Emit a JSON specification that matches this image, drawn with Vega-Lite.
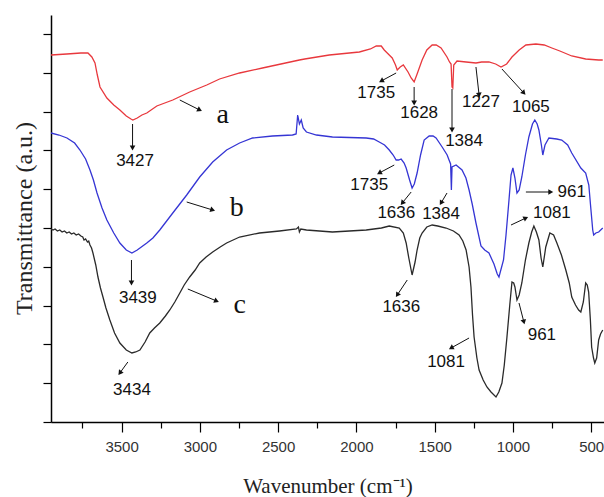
{
  "$schema": "https://vega.github.io/schema/vega-lite/v6.json",
  "width": 553,
  "height": 407,
  "autosize": {"type": "none"},
  "padding": {"left": 51, "top": 15, "right": 0, "bottom": 75},
  "background": "white",
  "config": {
    "view": {"stroke": null},
    "axis": {"grid": false, "domainColor": "#000", "domainWidth": 1.5, "tickColor": "#000", "tickWidth": 1.2}
  },
  "datasets": {
    "spectra": [
      {"wn":3951,"t":375,"s":"a"},{"wn":3850,"t":376,"s":"a"},{"wn":3760,"t":377,"s":"a"},{"wn":3715,"t":377,"s":"a"},{"wn":3690,"t":373,"s":"a"},{"wn":3670,"t":367,"s":"a"},{"wn":3655,"t":355,"s":"a"},{"wn":3638,"t":343,"s":"a"},{"wn":3594,"t":332,"s":"a"},{"wn":3550,"t":325,"s":"a"},{"wn":3511,"t":320,"s":"a"},{"wn":3470,"t":314,"s":"a"},{"wn":3440,"t":311,"s":"a"},{"wn":3428,"t":310,"s":"a"},{"wn":3400,"t":312,"s":"a"},{"wn":3370,"t":315,"s":"a"},{"wn":3339,"t":317,"s":"a"},{"wn":3275,"t":324,"s":"a"},{"wn":3173,"t":330,"s":"a"},{"wn":3065,"t":338,"s":"a"},{"wn":2956,"t":345,"s":"a"},{"wn":2874,"t":351,"s":"a"},{"wn":2746,"t":357,"s":"a"},{"wn":2600,"t":362,"s":"a"},{"wn":2364,"t":370,"s":"a"},{"wn":2330,"t":371,"s":"a"},{"wn":2173,"t":375,"s":"a"},{"wn":1981,"t":378,"s":"a"},{"wn":1910,"t":381,"s":"a"},{"wn":1873,"t":384,"s":"a"},{"wn":1841,"t":384,"s":"a"},{"wn":1822,"t":380,"s":"a"},{"wn":1790,"t":375,"s":"a"},{"wn":1771,"t":372,"s":"a"},{"wn":1750,"t":365,"s":"a"},{"wn":1739,"t":360,"s":"a"},{"wn":1720,"t":363,"s":"a"},{"wn":1700,"t":365,"s":"a"},{"wn":1670,"t":358,"s":"a"},{"wn":1650,"t":352,"s":"a"},{"wn":1631,"t":348,"s":"a"},{"wn":1612,"t":356,"s":"a"},{"wn":1580,"t":370,"s":"a"},{"wn":1550,"t":380,"s":"a"},{"wn":1516,"t":385,"s":"a"},{"wn":1490,"t":385,"s":"a"},{"wn":1459,"t":382,"s":"a"},{"wn":1421,"t":373,"s":"a"},{"wn":1405,"t":368,"s":"a"},{"wn":1395,"t":366,"s":"a"},{"wn":1389,"t":343,"s":"a"},{"wn":1384,"t":342,"s":"a"},{"wn":1378,"t":365,"s":"a"},{"wn":1357,"t":369,"s":"a"},{"wn":1299,"t":368,"s":"a"},{"wn":1236,"t":367,"s":"a"},{"wn":1200,"t":368,"s":"a"},{"wn":1153,"t":368,"s":"a"},{"wn":1110,"t":366,"s":"a"},{"wn":1076,"t":363,"s":"a"},{"wn":1040,"t":366,"s":"a"},{"wn":1006,"t":373,"s":"a"},{"wn":960,"t":380,"s":"a"},{"wn":917,"t":385,"s":"a"},{"wn":853,"t":386,"s":"a"},{"wn":800,"t":385,"s":"a"},{"wn":751,"t":382,"s":"a"},{"wn":700,"t":379,"s":"a"},{"wn":624,"t":374,"s":"a"},{"wn":535,"t":371,"s":"a"},{"wn":452,"t":370,"s":"a"},{"wn":426,"t":370,"s":"a"},

      {"wn":3951,"t":297,"s":"b"},{"wn":3900,"t":295,"s":"b"},{"wn":3849,"t":292,"s":"b"},{"wn":3800,"t":287,"s":"b"},{"wn":3766,"t":280,"s":"b"},{"wn":3730,"t":271,"s":"b"},{"wn":3702,"t":260,"s":"b"},{"wn":3680,"t":250,"s":"b"},{"wn":3657,"t":237,"s":"b"},{"wn":3625,"t":222,"s":"b"},{"wn":3594,"t":210,"s":"b"},{"wn":3550,"t":197,"s":"b"},{"wn":3511,"t":187,"s":"b"},{"wn":3470,"t":180,"s":"b"},{"wn":3434,"t":177,"s":"b"},{"wn":3400,"t":180,"s":"b"},{"wn":3339,"t":187,"s":"b"},{"wn":3300,"t":192,"s":"b"},{"wn":3256,"t":200,"s":"b"},{"wn":3173,"t":217,"s":"b"},{"wn":3084,"t":235,"s":"b"},{"wn":3001,"t":253,"s":"b"},{"wn":2918,"t":268,"s":"b"},{"wn":2829,"t":280,"s":"b"},{"wn":2746,"t":287,"s":"b"},{"wn":2663,"t":292,"s":"b"},{"wn":2536,"t":294,"s":"b"},{"wn":2408,"t":295,"s":"b"},{"wn":2385,"t":296,"s":"b"},{"wn":2375,"t":315,"s":"b"},{"wn":2364,"t":306,"s":"b"},{"wn":2352,"t":310,"s":"b"},{"wn":2340,"t":302,"s":"b"},{"wn":2319,"t":298,"s":"b"},{"wn":2255,"t":295,"s":"b"},{"wn":2153,"t":293,"s":"b"},{"wn":1937,"t":292,"s":"b"},{"wn":1890,"t":291,"s":"b"},{"wn":1854,"t":288,"s":"b"},{"wn":1820,"t":285,"s":"b"},{"wn":1790,"t":280,"s":"b"},{"wn":1765,"t":275,"s":"b"},{"wn":1746,"t":270,"s":"b"},{"wn":1730,"t":270,"s":"b"},{"wn":1714,"t":271,"s":"b"},{"wn":1695,"t":267,"s":"b"},{"wn":1682,"t":262,"s":"b"},{"wn":1660,"t":250,"s":"b"},{"wn":1644,"t":242,"s":"b"},{"wn":1630,"t":246,"s":"b"},{"wn":1612,"t":257,"s":"b"},{"wn":1590,"t":275,"s":"b"},{"wn":1567,"t":290,"s":"b"},{"wn":1535,"t":294,"s":"b"},{"wn":1510,"t":294,"s":"b"},{"wn":1491,"t":292,"s":"b"},{"wn":1452,"t":283,"s":"b"},{"wn":1420,"t":275,"s":"b"},{"wn":1408,"t":270,"s":"b"},{"wn":1398,"t":266,"s":"b"},{"wn":1393,"t":240,"s":"b"},{"wn":1389,"t":263,"s":"b"},{"wn":1363,"t":265,"s":"b"},{"wn":1325,"t":260,"s":"b"},{"wn":1300,"t":252,"s":"b"},{"wn":1280,"t":240,"s":"b"},{"wn":1260,"t":226,"s":"b"},{"wn":1236,"t":207,"s":"b"},{"wn":1204,"t":184,"s":"b"},{"wn":1180,"t":180,"s":"b"},{"wn":1153,"t":177,"s":"b"},{"wn":1121,"t":166,"s":"b"},{"wn":1100,"t":156,"s":"b"},{"wn":1089,"t":153,"s":"b"},{"wn":1060,"t":170,"s":"b"},{"wn":1044,"t":195,"s":"b"},{"wn":1025,"t":230,"s":"b"},{"wn":1012,"t":255,"s":"b"},{"wn":1000,"t":262,"s":"b"},{"wn":987,"t":252,"s":"b"},{"wn":974,"t":237,"s":"b"},{"wn":960,"t":240,"s":"b"},{"wn":943,"t":253,"s":"b"},{"wn":920,"t":275,"s":"b"},{"wn":898,"t":293,"s":"b"},{"wn":875,"t":306,"s":"b"},{"wn":860,"t":310,"s":"b"},{"wn":845,"t":306,"s":"b"},{"wn":834,"t":300,"s":"b"},{"wn":818,"t":285,"s":"b"},{"wn":809,"t":275,"s":"b"},{"wn":795,"t":285,"s":"b"},{"wn":770,"t":292,"s":"b"},{"wn":720,"t":291,"s":"b"},{"wn":688,"t":290,"s":"b"},{"wn":650,"t":285,"s":"b"},{"wn":624,"t":277,"s":"b"},{"wn":566,"t":262,"s":"b"},{"wn":535,"t":257,"s":"b"},{"wn":515,"t":245,"s":"b"},{"wn":503,"t":223,"s":"b"},{"wn":490,"t":200,"s":"b"},{"wn":484,"t":195,"s":"b"},{"wn":470,"t":197,"s":"b"},{"wn":452,"t":198,"s":"b"},{"wn":426,"t":202,"s":"b"},

      {"wn":3951,"t":201,"s":"c"},{"wn":3938,"t":200,"s":"c"},{"wn":3925,"t":201,"s":"c"},{"wn":3910,"t":199,"s":"c"},{"wn":3895,"t":200,"s":"c"},{"wn":3880,"t":198,"s":"c"},{"wn":3865,"t":199,"s":"c"},{"wn":3850,"t":197,"s":"c"},{"wn":3835,"t":198,"s":"c"},{"wn":3820,"t":196,"s":"c"},{"wn":3805,"t":197,"s":"c"},{"wn":3790,"t":195,"s":"c"},{"wn":3775,"t":196,"s":"c"},{"wn":3760,"t":194,"s":"c"},{"wn":3748,"t":193,"s":"c"},{"wn":3740,"t":190,"s":"c"},{"wn":3730,"t":191,"s":"c"},{"wn":3718,"t":188,"s":"c"},{"wn":3710,"t":189,"s":"c"},{"wn":3702,"t":185,"s":"c"},{"wn":3692,"t":182,"s":"c"},{"wn":3683,"t":177,"s":"c"},{"wn":3665,"t":165,"s":"c"},{"wn":3651,"t":153,"s":"c"},{"wn":3635,"t":142,"s":"c"},{"wn":3619,"t":133,"s":"c"},{"wn":3600,"t":122,"s":"c"},{"wn":3575,"t":110,"s":"c"},{"wn":3545,"t":97,"s":"c"},{"wn":3511,"t":87,"s":"c"},{"wn":3470,"t":80,"s":"c"},{"wn":3434,"t":77,"s":"c"},{"wn":3410,"t":78,"s":"c"},{"wn":3383,"t":80,"s":"c"},{"wn":3350,"t":88,"s":"c"},{"wn":3320,"t":97,"s":"c"},{"wn":3290,"t":102,"s":"c"},{"wn":3256,"t":107,"s":"c"},{"wn":3220,"t":114,"s":"c"},{"wn":3192,"t":120,"s":"c"},{"wn":3160,"t":128,"s":"c"},{"wn":3128,"t":137,"s":"c"},{"wn":3100,"t":145,"s":"c"},{"wn":3065,"t":153,"s":"c"},{"wn":3030,"t":160,"s":"c"},{"wn":3001,"t":167,"s":"c"},{"wn":2960,"t":173,"s":"c"},{"wn":2918,"t":178,"s":"c"},{"wn":2870,"t":183,"s":"c"},{"wn":2829,"t":187,"s":"c"},{"wn":2746,"t":193,"s":"c"},{"wn":2619,"t":197,"s":"c"},{"wn":2491,"t":199,"s":"c"},{"wn":2383,"t":201,"s":"c"},{"wn":2370,"t":203,"s":"c"},{"wn":2364,"t":198,"s":"c"},{"wn":2355,"t":201,"s":"c"},{"wn":2319,"t":200,"s":"c"},{"wn":2153,"t":198,"s":"c"},{"wn":1937,"t":200,"s":"c"},{"wn":1840,"t":202,"s":"c"},{"wn":1790,"t":204,"s":"c"},{"wn":1726,"t":202,"s":"c"},{"wn":1700,"t":197,"s":"c"},{"wn":1682,"t":187,"s":"c"},{"wn":1665,"t":172,"s":"c"},{"wn":1644,"t":155,"s":"c"},{"wn":1625,"t":168,"s":"c"},{"wn":1612,"t":180,"s":"c"},{"wn":1595,"t":192,"s":"c"},{"wn":1580,"t":197,"s":"c"},{"wn":1550,"t":203,"s":"c"},{"wn":1516,"t":205,"s":"c"},{"wn":1480,"t":204,"s":"c"},{"wn":1427,"t":202,"s":"c"},{"wn":1380,"t":199,"s":"c"},{"wn":1344,"t":195,"s":"c"},{"wn":1320,"t":189,"s":"c"},{"wn":1299,"t":180,"s":"c"},{"wn":1280,"t":163,"s":"c"},{"wn":1268,"t":143,"s":"c"},{"wn":1258,"t":115,"s":"c"},{"wn":1248,"t":93,"s":"c"},{"wn":1230,"t":72,"s":"c"},{"wn":1216,"t":60,"s":"c"},{"wn":1190,"t":50,"s":"c"},{"wn":1166,"t":43,"s":"c"},{"wn":1140,"t":38,"s":"c"},{"wn":1108,"t":33,"s":"c"},{"wn":1090,"t":38,"s":"c"},{"wn":1070,"t":47,"s":"c"},{"wn":1055,"t":65,"s":"c"},{"wn":1038,"t":93,"s":"c"},{"wn":1020,"t":125,"s":"c"},{"wn":1006,"t":148,"s":"c"},{"wn":995,"t":147,"s":"c"},{"wn":987,"t":143,"s":"c"},{"wn":980,"t":136,"s":"c"},{"wn":974,"t":130,"s":"c"},{"wn":960,"t":135,"s":"c"},{"wn":943,"t":147,"s":"c"},{"wn":920,"t":170,"s":"c"},{"wn":898,"t":187,"s":"c"},{"wn":880,"t":198,"s":"c"},{"wn":866,"t":204,"s":"c"},{"wn":850,"t":198,"s":"c"},{"wn":834,"t":190,"s":"c"},{"wn":820,"t":172,"s":"c"},{"wn":809,"t":163,"s":"c"},{"wn":790,"t":183,"s":"c"},{"wn":764,"t":197,"s":"c"},{"wn":740,"t":195,"s":"c"},{"wn":719,"t":187,"s":"c"},{"wn":690,"t":175,"s":"c"},{"wn":662,"t":160,"s":"c"},{"wn":640,"t":147,"s":"c"},{"wn":624,"t":133,"s":"c"},{"wn":600,"t":125,"s":"c"},{"wn":580,"t":120,"s":"c"},{"wn":566,"t":118,"s":"c"},{"wn":550,"t":128,"s":"c"},{"wn":535,"t":147,"s":"c"},{"wn":525,"t":145,"s":"c"},{"wn":516,"t":138,"s":"c"},{"wn":505,"t":110,"s":"c"},{"wn":497,"t":83,"s":"c"},{"wn":485,"t":72,"s":"c"},{"wn":477,"t":67,"s":"c"},{"wn":465,"t":72,"s":"c"},{"wn":452,"t":90,"s":"c"},{"wn":440,"t":96,"s":"c"},{"wn":426,"t":100,"s":"c"}
    ],
    "arrows": [
      {"x":3430,"y":306,"x2":3430,"y2":282},
      {"x":3128,"y":330,"x2":3001,"y2":320},
      {"x":1746,"y":357,"x2":1841,"y2":349},
      {"x":1631,"y":343,"x2":1631,"y2":327},
      {"x":1389,"y":341,"x2":1389,"y2":300},
      {"x":1236,"y":363,"x2":1216,"y2":335},
      {"x":1070,"y":361,"x2":930,"y2":337},
      {"x":3437,"y":170,"x2":3437,"y2":147},
      {"x":3084,"y":228,"x2":2918,"y2":220},
      {"x":1758,"y":265,"x2":1854,"y2":257},
      {"x":1650,"y":238,"x2":1707,"y2":227},
      {"x":1421,"y":237,"x2":1459,"y2":227},
      {"x":917,"y":238,"x2":758,"y2":238},
      {"x":1012,"y":205,"x2":917,"y2":212},
      {"x":3460,"y":68,"x2":3511,"y2":57},
      {"x":3077,"y":141,"x2":2893,"y2":129},
      {"x":1675,"y":150,"x2":1739,"y2":135},
      {"x":1280,"y":92,"x2":1395,"y2":82},
      {"x":961,"y":127,"x2":930,"y2":108}
    ],
    "nums": [
      {"label":"3427","x":3414,"y":269},
      {"label":"1735","x":1873,"y":337},
      {"label":"1628","x":1599,"y":317},
      {"label":"1384","x":1312,"y":289},
      {"label":"1227","x":1204,"y":328},
      {"label":"1065","x":885,"y":323},
      {"label":"3439","x":3396,"y":132},
      {"label":"1735","x":1918,"y":245},
      {"label":"1636","x":1745,"y":217},
      {"label":"1384","x":1459,"y":216},
      {"label":"961","x":624,"y":238},
      {"label":"1081","x":751,"y":217},
      {"label":"3434","x":3434,"y":40},
      {"label":"1636","x":1713,"y":123},
      {"label":"1081","x":1427,"y":68},
      {"label":"961","x":815,"y":95}
    ],
    "letters": [
      {"label":"a","x":2854,"y":315},
      {"label":"b","x":2765,"y":222},
      {"label":"c","x":2746,"y":125}
    ]
  },
  "layer": [
    {
      "data": {"name": "spectra"},
      "mark": {"type": "line", "strokeWidth": 1.3, "clip": true},
      "encoding": {
        "x": {
          "field": "wn", "type": "quantitative",
          "scale": {"domain": [418, 3951], "reverse": true, "nice": false, "zero": false},
          "axis": {
            "title": "Wavenumber (cm⁻¹)",
            "values": [500,750,1000,1250,1500,1750,2000,2250,2500,2750,3000,3250,3500,3750],
            "format": "d",
            "labelExpr": "datum.value % 500 === 0 ? datum.label : ''",
            "tickSize": {"condition": {"test": "datum.value % 500 === 0", "value": 10}, "value": 6},
            "labelFont": "Liberation Sans", "labelFontSize": 15, "labelColor": "#333",
            "labelPadding": 7, "labelFlush": false,
            "titleFont": "Liberation Serif", "titleFontSize": 21, "titleFontWeight": "normal", "titleColor": "#222",
            "titleBaseline": "middle", "titleY": 64
          }
        },
        "y": {
          "field": "t", "type": "quantitative",
          "scale": {"domain": [8, 415], "nice": false, "zero": false},
          "axis": {
            "title": "Transmittance (a.u.)",
            "values": [8,27.4,46.8,66.2,85.6,105,124.4,143.8,163.2,182.6,202,221.4,240.8,260.2,279.6,299,318.4,337.8,357.2,376.6,396],
            "labels": false,
            "tickSize": {"condition": {"test": "round((datum.value-8)/19.4) % 2 === 0", "value": 8}, "value": 4},
            "titleFont": "Liberation Serif", "titleFontSize": 24, "titleFontWeight": "normal", "titleColor": "#222",
            "titleAngle": -90, "titleBaseline": "middle", "titleAlign": "center", "titleX": -27, "titleY": 203
          }
        },
        "color": {
          "field": "s", "type": "nominal",
          "scale": {"domain": ["a", "b", "c"], "range": ["#e8383d", "#3535d4", "#2a2a2a"]},
          "legend": null
        }
      }
    },
    {
      "data": {"name": "arrows"},
      "mark": {"type": "rule", "color": "#111", "strokeWidth": 1},
      "encoding": {
        "x": {"field": "x", "type": "quantitative"},
        "x2": {"field": "x2"},
        "y": {"field": "y", "type": "quantitative"},
        "y2": {"field": "y2"}
      }
    },
    {
      "data": {"name": "arrows"},
      "transform": [{"calculate": "atan2((datum.x - datum.x2) * 0.15652, datum.y2 - datum.y) * 180 / PI", "as": "ang"}],
      "mark": {"type": "point", "shape": "triangle-up", "filled": true, "color": "#111", "size": 32, "opacity": 1},
      "encoding": {
        "x": {"field": "x2", "type": "quantitative"},
        "y": {"field": "y2", "type": "quantitative"},
        "angle": {"field": "ang", "type": "quantitative", "scale": null}
      }
    },
    {
      "data": {"name": "nums"},
      "mark": {"type": "text", "font": "Liberation Sans", "fontSize": 17, "color": "#111", "baseline": "middle", "align": "center"},
      "encoding": {
        "x": {"field": "x", "type": "quantitative"},
        "y": {"field": "y", "type": "quantitative"},
        "text": {"field": "label"}
      }
    },
    {
      "data": {"name": "letters"},
      "mark": {"type": "text", "font": "Liberation Serif", "fontSize": 28, "color": "#111", "baseline": "middle", "align": "center"},
      "encoding": {
        "x": {"field": "x", "type": "quantitative"},
        "y": {"field": "y", "type": "quantitative"},
        "text": {"field": "label"}
      }
    }
  ]
}
